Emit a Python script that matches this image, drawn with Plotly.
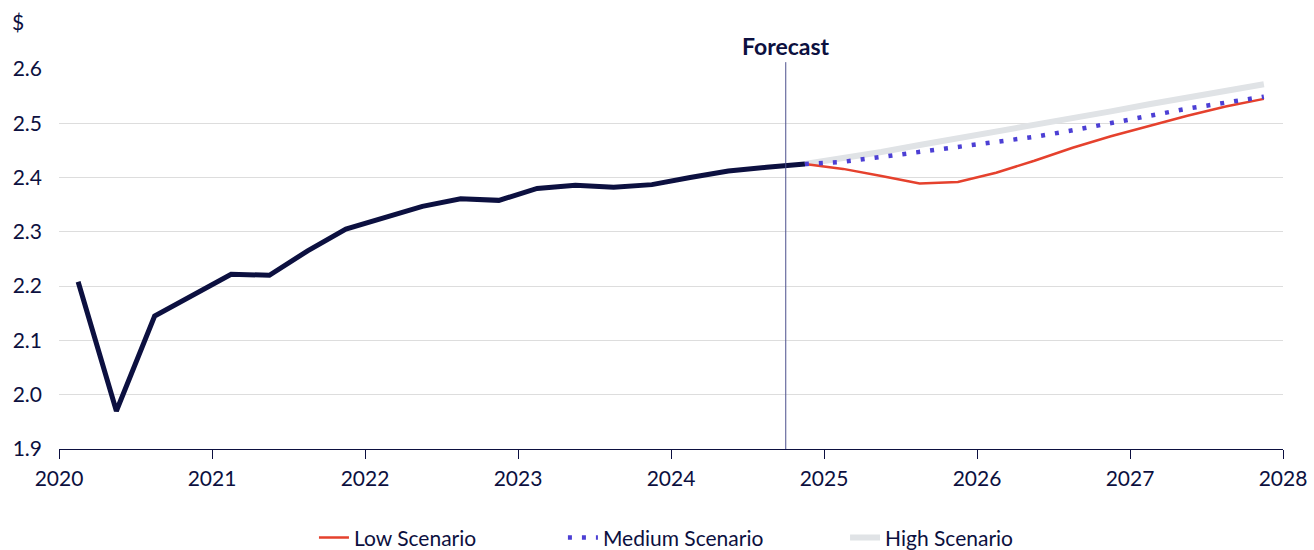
import plotly.graph_objects as go

# Quarterly observations (mid-quarter, decimal years)
hist_x = [2020.125, 2020.375, 2020.625, 2020.875,
          2021.125, 2021.375, 2021.625, 2021.875,
          2022.125, 2022.375, 2022.625, 2022.875,
          2023.125, 2023.375, 2023.625, 2023.875,
          2024.125, 2024.375, 2024.625, 2024.875]
hist_y = [2.208, 1.970, 2.145, 2.183,
          2.222, 2.220, 2.265, 2.305,
          2.325, 2.347, 2.361, 2.358,
          2.380, 2.386, 2.382, 2.387,
          2.400, 2.412, 2.419, 2.425]

# Scenario projections
fc_x = [2024.875, 2025.125, 2025.375, 2025.625, 2025.875,
        2026.125, 2026.375, 2026.625, 2026.875,
        2027.125, 2027.375, 2027.625, 2027.875]
low_y = [2.425, 2.416, 2.403, 2.389, 2.392,
         2.409, 2.431, 2.455, 2.476,
         2.495, 2.514, 2.531, 2.545]
med_y = [2.425, 2.429, 2.438, 2.447, 2.455,
         2.465, 2.475, 2.487, 2.501,
         2.514, 2.527, 2.538, 2.549]
high_y = [2.425, 2.435, 2.447, 2.460, 2.472,
          2.484, 2.496, 2.509, 2.522,
          2.535, 2.548, 2.560, 2.572]

years = list(range(2020, 2029))
y_ticks = [1.9, 2.0, 2.1, 2.2, 2.3, 2.4, 2.5, 2.6]
forecast_start = 2024.75

NAVY = "#0c1040"
FONT = "Lato"
TXT = 21

fig = go.Figure()

fig.add_trace(go.Scatter(
    x=fc_x, y=high_y, mode="lines", name="High Scenario", legend="legend3",
    line=dict(color="#e0e3e6", width=6)))
fig.add_trace(go.Scatter(
    x=fc_x, y=low_y, mode="lines", name="Low Scenario", legend="legend",
    line=dict(color="#e5412d", width=2.5)))
fig.add_trace(go.Scatter(
    x=fc_x, y=med_y, mode="lines", name="Medium Scenario", legend="legend2",
    line=dict(color="#4c3fd4", width=4.5, dash="4px,10px")))
fig.add_trace(go.Scatter(
    x=hist_x, y=hist_y, mode="lines", name="Actual", showlegend=False,
    line=dict(color=NAVY, width=5)))

# Forecast divider
fig.add_shape(type="line", xref="x", yref="paper",
              x0=forecast_start, x1=forecast_start, y0=0, y1=1.018,
              line=dict(color="#4b4f8c", width=1))
fig.add_annotation(x=forecast_start, xref="x", y=1.06, yref="paper",
                   text="<b>Forecast</b>", showarrow=False,
                   font=dict(family=FONT, size=23, color=NAVY),
                   xanchor="center", yanchor="middle")
fig.add_annotation(x=-0.04, xref="paper", y=1.124, yref="paper",
                   text="$", showarrow=False,
                   font=dict(family=FONT, size=TXT, color=NAVY),
                   xanchor="left", yanchor="middle")

fig.update_xaxes(
    range=[2020, 2028], tickvals=years, ticktext=[str(y) for y in years],
    showgrid=False, zeroline=False,
    showline=True, linecolor=NAVY, linewidth=1,
    ticks="outside", ticklen=9, tickwidth=1, tickcolor=NAVY,
    ticklabelstandoff=2,
    tickfont=dict(family=FONT, size=TXT, color=NAVY))
fig.update_yaxes(
    range=[1.9, 2.6], tickvals=y_ticks,
    ticktext=[f"{v:.1f}" for v in y_ticks],
    showgrid=True, gridcolor="#dddddd", gridwidth=1, zeroline=False,
    showline=False, ticks="", ticklabelstandoff=16,
    tickfont=dict(family=FONT, size=TXT, color=NAVY))

legend_style = dict(orientation="h", y=-0.234, yanchor="middle",
                    xanchor="left", bgcolor="rgba(0,0,0,0)",
                    font=dict(family=FONT, size=TXT, color=NAVY))

fig.update_layout(
    width=1314, height=550,
    margin=dict(l=59, r=31, t=69, b=101, autoexpand=False),
    plot_bgcolor="white", paper_bgcolor="white",
    font=dict(family=FONT, color=NAVY),
    legend=dict(x=0.2083, **legend_style),
    legend2=dict(x=0.4117, **legend_style),
    legend3=dict(x=0.6422, **legend_style),
)

fig.write_html("out.html")
